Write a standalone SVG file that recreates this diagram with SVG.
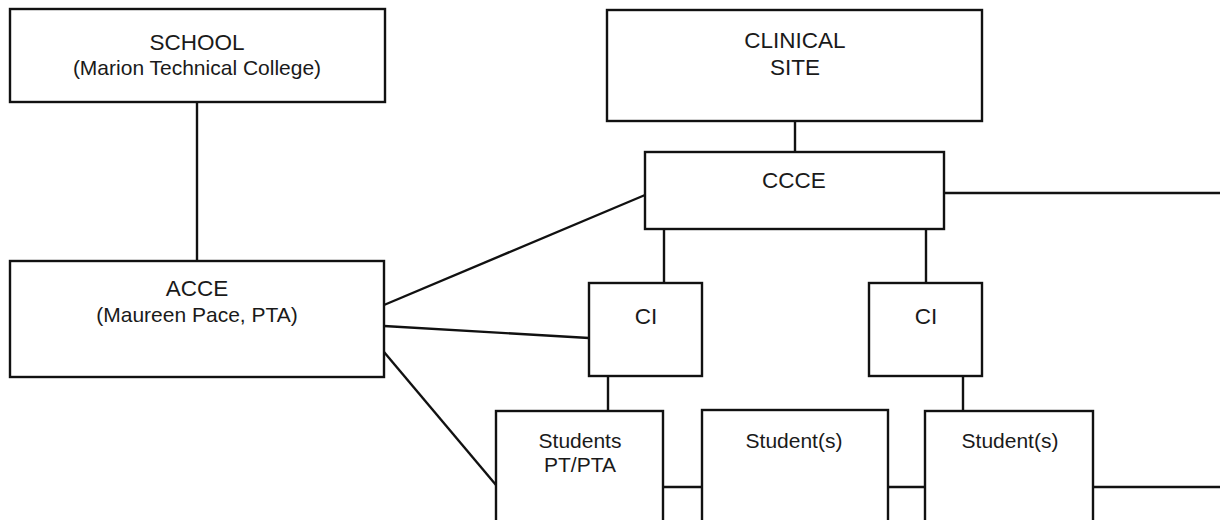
<svg xmlns="http://www.w3.org/2000/svg" width="1220" height="520" viewBox="0 0 1220 520">
<style>
.box{fill:#fff;stroke:#111;stroke-width:2.4}
.ln{stroke:#111;stroke-width:2.4;fill:none}
text{font-family:"Liberation Sans",Arial,sans-serif;font-size:21px;fill:#1a1a1a;text-anchor:middle}
.cap{font-size:22.5px}
</style>
<rect width="1220" height="520" fill="#fff"/>
<g id="connectors">
<line class="ln" x1="197" y1="102" x2="197" y2="261"/>
<line class="ln" x1="795" y1="121" x2="795" y2="152"/>
<line class="ln" x1="944" y1="193" x2="1220" y2="193"/>
<line class="ln" x1="664" y1="229" x2="664" y2="283"/>
<line class="ln" x1="926" y1="229" x2="926" y2="283"/>
<line class="ln" x1="384" y1="305" x2="645" y2="195"/>
<line class="ln" x1="384" y1="326" x2="589" y2="338"/>
<line class="ln" x1="384" y1="352" x2="496" y2="485"/>
<line class="ln" x1="608" y1="376" x2="608" y2="411"/>
<line class="ln" x1="963" y1="376" x2="963" y2="411"/>
<line class="ln" x1="663" y1="487" x2="702" y2="487"/>
<line class="ln" x1="888" y1="487" x2="925" y2="487"/>
<line class="ln" x1="1093" y1="487" x2="1220" y2="487"/>
</g>
<g id="school">
<rect class="box" x="10" y="9" width="375" height="93"/>
<text class="cap" x="197" y="50">SCHOOL</text>
<text x="197" y="75">(Marion Technical College)</text>
</g>
<g id="clinical-site">
<rect class="box" x="607" y="10" width="375" height="111"/>
<text class="cap" x="795" y="48">CLINICAL</text>
<text class="cap" x="795" y="75">SITE</text>
</g>
<g id="ccce">
<rect class="box" x="645" y="152" width="299" height="77"/>
<text class="cap" x="794" y="188">CCCE</text>
</g>
<g id="acce">
<rect class="box" x="10" y="261" width="374" height="116"/>
<text class="cap" x="197" y="296">ACCE</text>
<text x="197" y="322">(Maureen Pace, PTA)</text>
</g>
<g id="ci1">
<rect class="box" x="589" y="283" width="113" height="93"/>
<text class="cap" x="646" y="324">CI</text>
</g>
<g id="ci2">
<rect class="box" x="869" y="283" width="113" height="93"/>
<text class="cap" x="926" y="324">CI</text>
</g>
<g id="students">
<rect class="box" x="496" y="411" width="167" height="130"/>
<text x="580" y="448">Students</text>
<text x="580" y="472">PT/PTA</text>
</g>
<g id="student2">
<rect class="box" x="702" y="410" width="186" height="130"/>
<text x="794" y="448">Student(s)</text>
</g>
<g id="student3">
<rect class="box" x="925" y="411" width="168" height="130"/>
<text x="1010" y="448">Student(s)</text>
</g>
</svg>
